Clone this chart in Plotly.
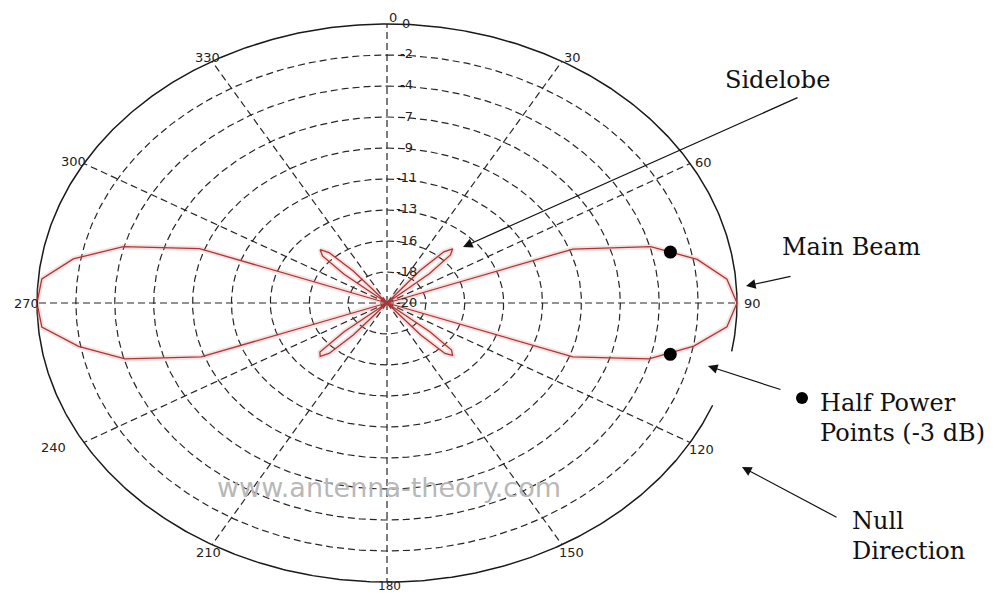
import numpy as np
import plotly.graph_objects as go

# ---------------- data ----------------
# radiation pattern: angle in degrees (clockwise from top), gain in dB
pattern_angle = [0, 37, 39, 41.5, 44, 46.5, 49, 51,
                 65, 70, 75, 80, 85, 90, 95, 100, 105, 110, 115,
                 128, 130, 132.5, 135, 137.5, 140, 142,
                 218, 220, 222.5, 225, 227.5, 230, 232,
                 245, 250, 255, 260, 265, 270, 275, 280, 285, 290, 295,
                 308, 310, 312.5, 315, 317.5, 320, 322, 360]
pattern_db = [-20, -20, -17.0, -15.1, -14.6, -15.0, -16.8, -20,
              -20, -8.7, -4.4, -2.0, -0.5, 0.0, -0.5, -2.2, -4.5, -8.7, -20,
              -20, -16.8, -15.0, -14.7, -15.1, -17.0, -20,
              -20, -17.0, -15.1, -14.6, -14.8, -16.8, -20,
              -20, -8.7, -4.5, -2.1, -0.2, 0.0, -0.2, -1.8, -4.4, -8.6, -20,
              -20, -16.8, -15.0, -14.6, -15.1, -17.0, -20, -20]

half_power_angle = [77.3, 102.8]
half_power_db = [-3.4, -3.4]

angle_ticks = [0, 30, 60, 90, 120, 150, 180, 210, 240, 270, 300, 330]
angle_tick_labels = [str(a) for a in angle_ticks]
radial_ticks_db = [0, -2.22, -4.44, -6.67, -8.89, -11.11, -13.33, -15.56, -17.78, -20]
radial_tick_labels = ["0", "-2", "-4", "-7", "-9", "-11", "-13", "-16", "-18", "-20"]
DB_MIN, DB_MAX = -20.0, 0.0

callout_texts = ["Sidelobe", "Main Beam", "Half Power", "Points (-3 dB)", "Null", "Direction"]
watermark = "www.antenna-theory.com"

# ---------------- layout geometry (pixels) ----------------
W, H = 1003, 594
CX, CY, RX, RY = 387.0, 303.0, 350.0, 279.0


def px2d(px, py):
    return (px - CX) / RX, (CY - py) / RY


def polar_xy(theta_deg, db):
    th = np.radians(np.asarray(theta_deg, dtype=float))
    r = (np.clip(np.asarray(db, dtype=float), DB_MIN, DB_MAX) - DB_MIN) / (DB_MAX - DB_MIN)
    return r * np.sin(th), r * np.cos(th)


fig = go.Figure()

GRID = "#262626"
DASH = "7px,4px"
# dashed rings
n_rings = len(radial_ticks_db) - 1
t = np.linspace(0, 360, 721)
for k in range(1, n_rings):
    r = k / n_rings
    fig.add_trace(go.Scatter(x=r * np.sin(np.radians(t)), y=r * np.cos(np.radians(t)),
                             mode="lines", line=dict(color=GRID, width=1.2, dash=DASH),
                             hoverinfo="skip", showlegend=False))
# dashed spokes
for a in angle_ticks:
    fig.add_trace(go.Scatter(x=[0, np.sin(np.radians(a))], y=[0, np.cos(np.radians(a))],
                             mode="lines", line=dict(color=GRID, width=1.2, dash=DASH),
                             hoverinfo="skip", showlegend=False))
# outer solid circle (with small break on the right, as in the original)
to = np.linspace(111.5, 460, 700)
fig.add_trace(go.Scatter(x=np.sin(np.radians(to)), y=np.cos(np.radians(to)),
                         mode="lines", line=dict(color="#1a1a1a", width=1.5),
                         hoverinfo="skip", showlegend=False))

# pattern
px_, py_ = polar_xy(pattern_angle, pattern_db)
fig.add_trace(go.Scatter(x=px_, y=py_, mode="lines",
                         line=dict(color="rgba(225,130,130,0.25)", width=5),
                         hoverinfo="skip", showlegend=False))
fig.add_trace(go.Scatter(x=px_, y=py_, mode="lines",
                         line=dict(color="#b03434", width=1.3),
                         name="pattern", showlegend=False))
# half-power points
hx, hy = polar_xy(half_power_angle, half_power_db)
fig.add_trace(go.Scatter(x=hx, y=hy, mode="markers",
                         marker=dict(color="black", size=13),
                         showlegend=False))

annotations = []
TICKFONT = dict(family="DejaVu Sans", size=13, color="#222")

# angle labels: offsets (px) from the circle point
angle_offsets = [(6, -7), (10, -4), (13, -1), (15, 0), (11, 7), (9, 8),
                 (2, 4), (-4, 8), (-30, 5), (-11, 0), (-10, -2), (-5, -4)]
for a, lab, (dx, dy) in zip(angle_ticks, angle_tick_labels, angle_offsets):
    cx_ = CX + RX * np.sin(np.radians(a)) + dx
    cy_ = CY - RY * np.cos(np.radians(a)) + dy
    xd, yd = px2d(cx_, cy_)
    annotations.append(dict(x=xd, y=yd, text=lab, showarrow=False,
                            font=dict(TICKFONT, size=12) if a == 180 else TICKFONT,
                            xanchor="center", yanchor="middle"))

# radial labels
for db, lab in zip(radial_ticks_db, radial_tick_labels):
    r = (db - DB_MIN) / (DB_MAX - DB_MIN)
    xd, _ = px2d(406, 0)
    annotations.append(dict(x=xd, y=r, text=lab, showarrow=False, font=TICKFONT,
                            xanchor="center", yanchor="middle", yshift=1))

SERIF = dict(family="DejaVu Serif", size=24, color="#111")
text_pos = [(723, 80), (780, 247), (818, 403), (818, 433), (850, 521), (850, 551)]
for txt, (tx, ty) in zip(callout_texts, text_pos):
    xd, yd = px2d(tx, ty)
    annotations.append(dict(x=xd, y=yd, text=txt, showarrow=False, font=SERIF,
                            xanchor="left", yanchor="middle"))

# legend-like dot before "Half Power"
dx_, dy_ = px2d(802, 398)
fig.add_trace(go.Scatter(x=[dx_], y=[dy_], mode="markers",
                         marker=dict(color="black", size=12), showlegend=False))

# arrows: (head px, tail px)
arrows = [((463, 247), (799, 97)),
          ((746, 286), (792, 276)),
          ((708, 366), (782, 390)),
          ((742, 467), (838, 518))]
for (hx_, hy_), (tx_, ty_) in arrows:
    xd, yd = px2d(hx_, hy_)
    annotations.append(dict(x=xd, y=yd, ax=tx_ - hx_, ay=ty_ - hy_, axref="pixel", ayref="pixel",
                            text="", showarrow=True, arrowhead=2, arrowsize=1.6,
                            arrowwidth=1.2, arrowcolor="#111", standoff=0))

# watermark
xd, yd = px2d(389, 487)
annotations.append(dict(x=xd, y=yd, text=watermark, showarrow=False,
                        font=dict(family="DejaVu Sans", size=27, color="#b8b8b8"),
                        xanchor="center", yanchor="middle"))

fig.update_layout(
    width=W, height=H,
    margin=dict(l=0, r=0, t=0, b=0),
    paper_bgcolor="white", plot_bgcolor="white",
    xaxis=dict(range=[(0 - CX) / RX, (W - CX) / RX], visible=False, fixedrange=True),
    yaxis=dict(range=[(CY - H) / RY, CY / RY], visible=False, fixedrange=True),
    annotations=annotations,
    showlegend=False,
)

fig.write_html("out.html", config={"displayModeBar": False},
               post_script="document.body.style.margin='0';document.body.style.overflow='hidden';")
